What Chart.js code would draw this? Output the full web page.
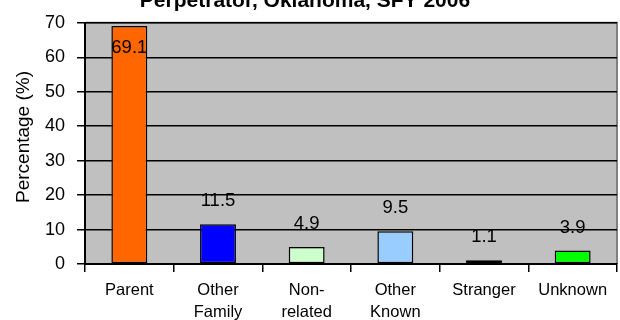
<!DOCTYPE html>
<html>
<head>
<meta charset="utf-8">
<script src="https://cdn.jsdelivr.net/npm/chart.js@4/dist/chart.umd.min.js"></script>
<style>
  html, body { margin: 0; padding: 0; background: #fff; }
  #wrap { width: 620px; height: 320px; position: relative; }
</style>
</head>
<body>
<div id="wrap"><canvas id="c" width="620" height="320"></canvas></div>
<script>
// Perpetrator categories and their share of cases (%)
const categories = [["Parent"], ["Other", "Family"], ["Non-", "related"], ["Other", "Known"], ["Stranger"], ["Unknown"]];
const percentages = [69.1, 11.5, 4.9, 9.5, 1.1, 3.9];
const barColors = ["#FF6600", "#0000FF", "#CCFFCC", "#99CCFF", "#FFFF00", "#00FF00"];
const yTicks = [0, 10, 20, 30, 40, 50, 60, 70];
const titleText = "Perpetrator, Oklahoma, SFY 2006";
const yAxisTitle = "Percentage (%)";

const FONT = "'Liberation Sans', Arial, sans-serif";

// Grey plot background with the darker top/right frame
const plotFrame = {
  id: 'plotFrame',
  beforeDraw(chart) {
    const { ctx, chartArea: a } = chart;
    ctx.save();
    ctx.fillStyle = '#C0C0C0';
    ctx.fillRect(a.left, a.top, a.right - a.left, a.bottom - a.top);
    ctx.strokeStyle = '#808080';
    ctx.lineWidth = 2;
    ctx.beginPath();
    ctx.moveTo(a.left, a.top);
    ctx.lineTo(a.right, a.top);
    ctx.lineTo(a.right, a.bottom);
    ctx.stroke();
    ctx.restore();
  }
};

// Chart heading (partly above the canvas edge) and the rotated y-axis caption
const headings = {
  id: 'headings',
  afterDraw(chart) {
    const { ctx } = chart;
    ctx.save();
    ctx.font = "bold 21px " + FONT;
    ctx.fillStyle = '#000';
    ctx.textAlign = 'center';
    ctx.textBaseline = 'alphabetic';
    ctx.fillText(titleText, 305, 7);

    ctx.translate(24, 137);
    ctx.rotate(-Math.PI / 2);
    ctx.font = "19px " + FONT;
    ctx.textBaseline = 'middle';
    ctx.fillText(yAxisTitle, 0, 0);
    ctx.restore();
  }
};

// Value labels above each bar (inside the bar when there is no room)
const valueLabels = {
  id: 'valueLabels',
  afterDatasetsDraw(chart) {
    const { ctx, chartArea: a } = chart;
    const meta = chart.getDatasetMeta(0);
    ctx.save();
    ctx.font = "18.5px " + FONT;
    ctx.fillStyle = '#000';
    ctx.textAlign = 'center';
    ctx.textBaseline = 'middle';
    meta.data.forEach((bar, i) => {
      let y = bar.y - 23;
      if (y - 10 < a.top) y = bar.y + 22;
      ctx.fillText(String(percentages[i]), bar.x, y);
    });
    ctx.restore();
  }
};

new Chart(document.getElementById('c'), {
  type: 'bar',
  data: {
    labels: categories,
    datasets: [{
      data: percentages,
      backgroundColor: barColors,
      borderColor: '#000',
      borderWidth: 1.5,
      borderSkipped: false,
      categoryPercentage: 1.0,
      barPercentage: 0.405
    }]
  },
  options: {
    responsive: false,
    animation: false,
    devicePixelRatio: 1,
    layout: { padding: { top: 19, right: 3, left: 0, bottom: 0 } },
    plugins: {
      legend: { display: false },
      title: { display: false },
      tooltip: { enabled: false }
    },
    scales: {
      x: {
        grid: {
          display: true,
          drawOnChartArea: false,
          drawTicks: true,
          tickLength: 8,
          color: '#000',
          lineWidth: 1.5,
          offset: true
        },
        border: { display: true, color: '#000', width: 2 },
        ticks: {
          color: '#000',
          font: { family: FONT, size: 16.5, lineHeight: 1.3 },
          padding: 8,
          maxRotation: 0,
          autoSkip: false
        },
        afterFit(scale) { scale.height = 56; }
      },
      y: {
        min: 0,
        max: 70,
        afterBuildTicks(scale) { scale.ticks = yTicks.map(v => ({ value: v })); },
        grid: {
          color: '#000',
          lineWidth: 1.5,
          tickLength: 8,
          drawTicks: true
        },
        border: { display: true, color: '#000', width: 2 },
        ticks: {
          color: '#000',
          font: { family: FONT, size: 18 },
          padding: 12
        },
        title: { display: false },
        afterFit(scale) { scale.width = 85; }
      }
    }
  },
  plugins: [plotFrame, valueLabels, headings]
});
</script>
</body>
</html>
